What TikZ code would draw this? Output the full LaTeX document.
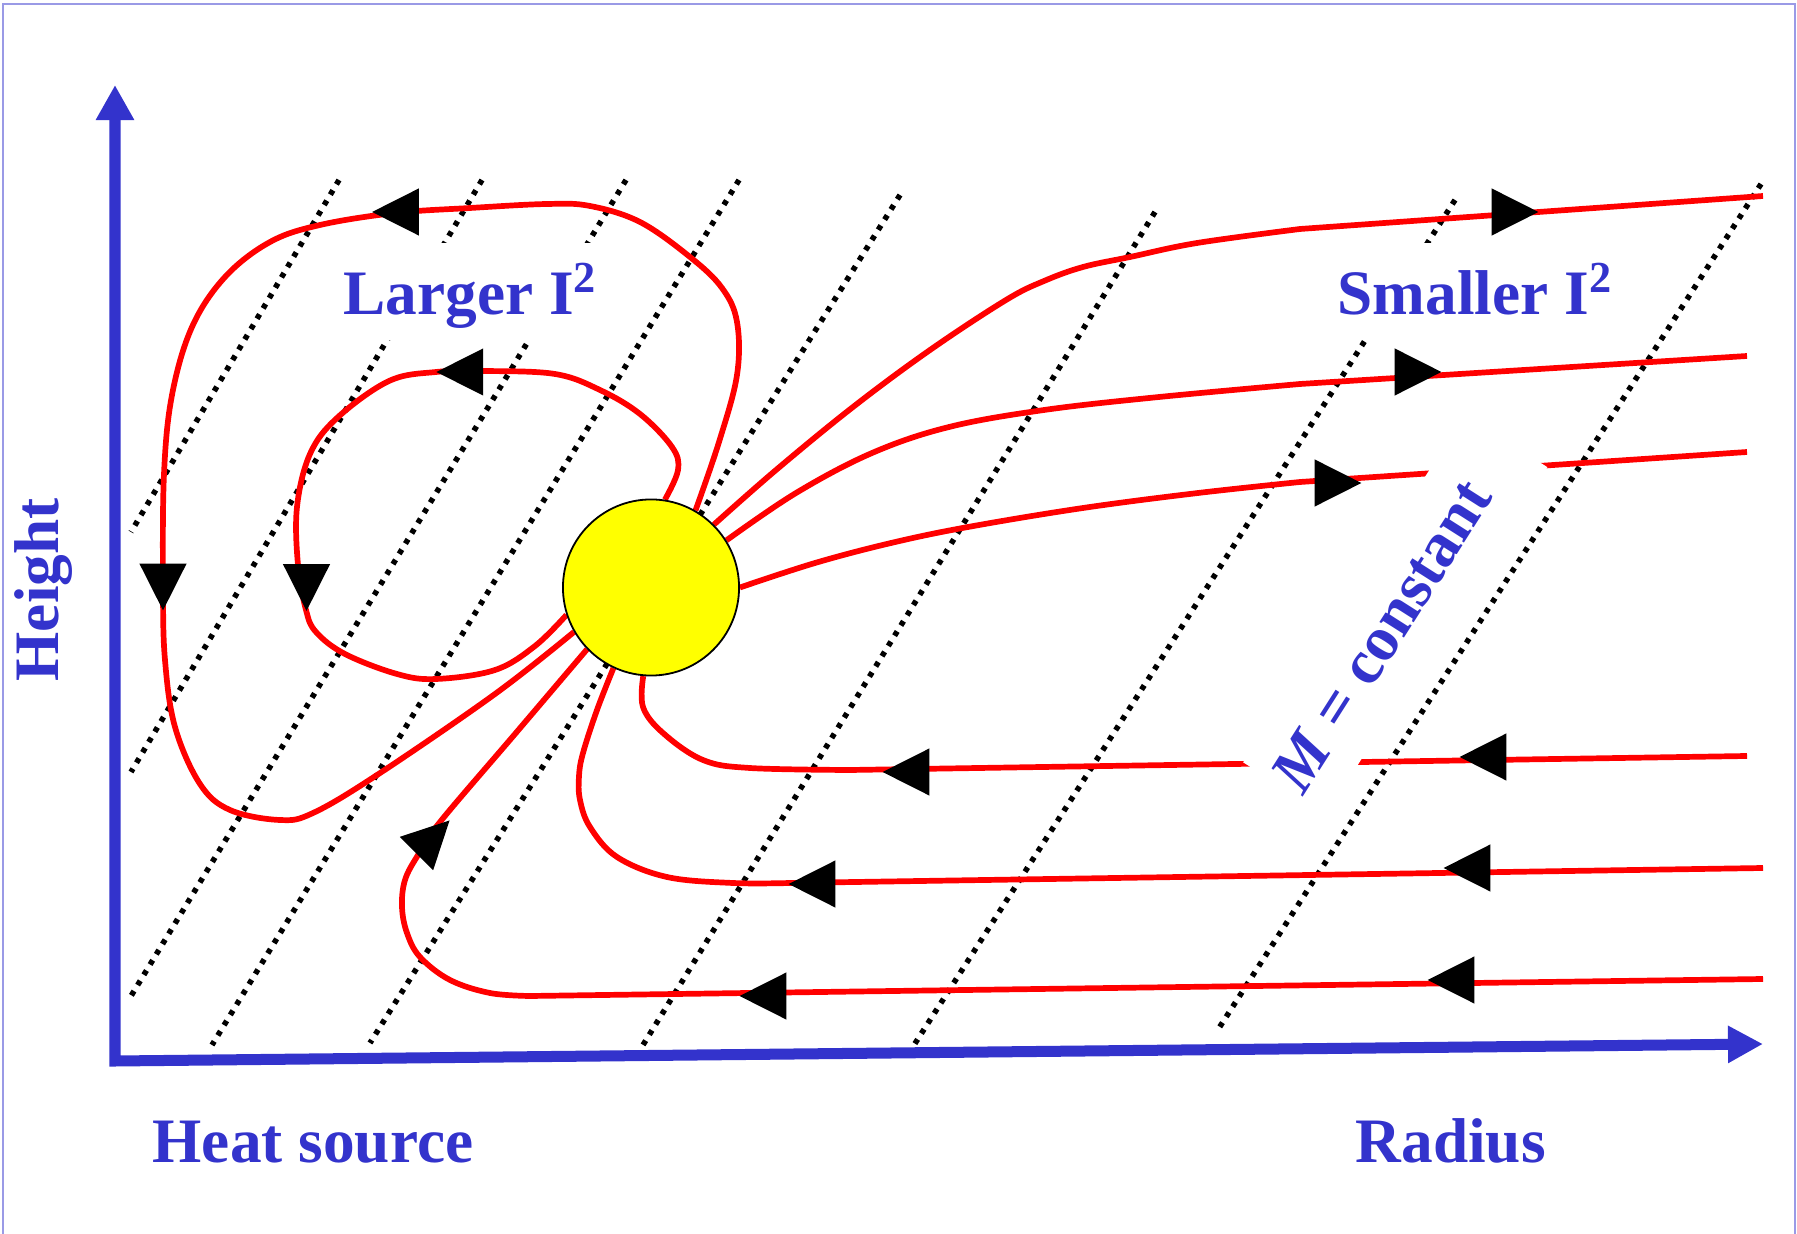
\documentclass[tikz,border=0pt]{standalone}
\usepackage{fontspec}
\setmainfont{Liberation Serif}
\usepackage{xcolor}
\usepackage{tikz}
\usetikzlibrary{arrows.meta,backgrounds}

\definecolor{axisblue}{HTML}{3333CC}
\definecolor{framelav}{HTML}{9A9AE6}
\definecolor{srcyellow}{HTML}{FFFF00}

\begin{document}
\begin{tikzpicture}[x=0.01cm, y=-0.01cm,
  axisline/.style={draw=axisblue, line width=0.11cm, line join=miter,
    {Triangle[length=0.35cm,width=0.35cm]}-{Triangle[length=0.35cm,width=0.36cm]}},
  mline/.style={black, line width=0.055cm, dash pattern=on 0.05cm off 0.07cm},
  fieldline/.style={red, line width=0.057cm, line join=round},
  lab/.style={text=axisblue, font=\fontsize{18}{21}\selectfont\bfseries, inner sep=0pt},
  clearlab/.style={lab, fill=white, inner xsep=0.06cm, text height=0.72cm, text depth=0.25cm},
  flowtip/.pic={\fill (23.4,0) -- (-23.4,23.6) -- (-23.4,-23.6) -- cycle;}]
  \useasboundingbox (0,0) rectangle (1797,1234);
  \draw[framelav, line width=0.015cm] (3,1234) -- (3,4) -- (1795,4) -- (1795,1234);

  \coordinate (origin) at (115,1061);
  \coordinate (ytip) at (115,85);
  \coordinate (xtip) at (1763,1044);
  \draw[axisline] (xtip) -- (origin) -- (ytip);

  \node[circle, draw=black, line width=0.018cm, fill=srcyellow, minimum size=1.76cm,
    inner sep=0pt] (src) at (651,587.5) {};

  \node[clearlab, anchor=base west] (larger) at (337,315) {Larger I\textsuperscript{2}};
  \node[clearlab, anchor=base west] (smaller) at (1331,315) {Smaller I\textsuperscript{2}};
  \node[lab, anchor=base west] (heat) at (152,1162) {Heat source};
  \node[lab, anchor=base west] (radius) at (1355,1162) {Radius};
  \node[lab, anchor=base west, rotate=90] (height) at (58,682) {Height};
  \node[lab, fill=white, inner xsep=0.04cm, text height=0.69cm, text depth=0.29cm,
    anchor=base west, rotate=57.5] (mconst) at (1301,800) {\textit{M} = constant\hspace*{0.5cm}};

  \begin{scope}[on background layer]
    \foreach \xa/\ya/\xb/\yb in {339/180/131/532, 482/180/131/772, 626/180/131/996,
        739/180/212/1045, 900/195/370/1043, 1155/212/643/1045,
        1455/200/914/1045, 1761/184/1219/1028}
      \draw[mline] (\xa,\ya) -- (\xb,\yb);

    \draw[fieldline] plot[smooth, tension=0.6] coordinates {(src.60) (719,442) (737,375)
      (737,322) (722,288) (690,257) (640,222) (590,206) (547,204) (470,208) (395,213)
      (320,225) (270,242) (225,277) (192,327) (172,395) (164,474) (163,587) (165,660)
      (175,727) (200,784) (230,810) (280,820) (313,813) (377,775) (495,694) (src.210)};
    \draw[fieldline] plot[smooth, tension=0.6] coordinates {(src.81) (678,470) (672,447)
      (640,414) (600,390) (555,374) (484,371) (436,372) (389,381) (337,418) (310,454)
      (297,507) (298,565) (306,610) (316,632) (345,654) (397,674) (436,679) (495,670)
      (535,646) (src.198)};
    \draw[fieldline] plot[smooth, tension=0.6] coordinates {(src.45) (776,470) (853,407)
      (930,350) (1006,300) (1044,281) (1083,267) (1130,257) (1197,243) (1300,229)}
      -- (1763,196);
    \draw[fieldline] plot[smooth, tension=0.6] coordinates {(src.32) (796,493) (872,453)
      (949,427) (1044,410) (1159,397) (1300,384)} -- (1747,356);
    \draw[fieldline] plot[smooth, tension=0.6] coordinates {(src.0) (815,563) (891,543)
      (968,527) (1083,508) (1198,493) (1300,482)} -- (1747,452);
    \draw[fieldline] plot[smooth, tension=0.6] coordinates {(src.265) (643,707) (663,733)
      (703,760) (750,768) (850,770)} -- (1747,756);
    \draw[fieldline] plot[smooth, tension=0.6] coordinates {(src.245) (597,710) (583,753)
      (579,776) (580,800) (590,827) (617,857) (667,877) (733,883) (790,883)} -- (1763,868);
    \draw[fieldline] plot[smooth, tension=0.6] coordinates {(src.224) (515,734) (440,822)
      (418,855) (405,880) (402,907) (407,933) (420,957) (450,980) (490,993) (530,996)}
      -- (1763,979);

    \foreach \px/\py/\rot in {395.5/212/180, 459.8/372/180, 163/587/-90, 306.5/587.5/-90,
        433/837/45, 1515/212/0, 1418/372/0, 1338/483/0, 906/772/180, 1483/757/180,
        812/884/180, 1467/868/180, 763/996/180, 1451/980/180}
      \pic[rotate=\rot] at (\px,\py) {flowtip};
  \end{scope}
\end{tikzpicture}
\end{document}
